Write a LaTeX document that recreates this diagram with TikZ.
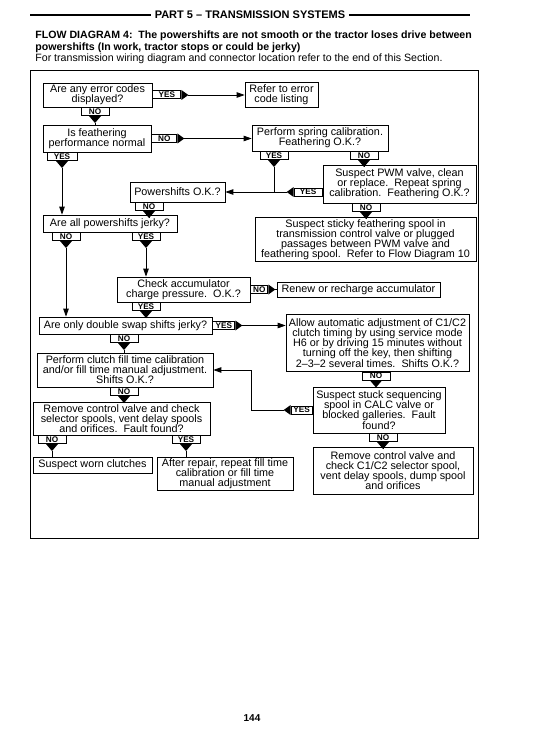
\documentclass[tikz,border=0pt]{standalone}
\usepackage{fontspec}
\setmainfont{Liberation Sans}
\usepackage{tikz}
\usetikzlibrary{arrows.meta,positioning,calc}
\tikzstyle{flowbox}=[draw, line width=0.7pt, align=center, inner sep=0pt, font=\fontsize{10.8}{10.1}\selectfont]
\tikzstyle{tagbox}=[draw, line width=1pt, fill=white, inner sep=0pt, minimum height=8pt, font=\fontsize{8.2}{8}\selectfont\bfseries]
\tikzstyle{tagdn}=[tagbox, anchor=north, minimum width=28pt]
\tikzstyle{tagr}=[tagbox, anchor=west, minimum width=28pt]
\tikzstyle{tagl}=[tagbox, anchor=east, minimum width=28pt]

\begin{document}
\begin{tikzpicture}[x=1pt, y=-1pt, line width=0.8pt, >={Triangle[length=8pt,width=5.5pt]}]
\useasboundingbox (0,0) rectangle (541,746);

% header
\node[font=\fontsize{11}{12}\selectfont\bfseries] (hdr) at (250,15) {PART 5 -- TRANSMISSION SYSTEMS};
\draw[line width=1.6pt] (30,15) -- (hdr.west);
\draw[line width=1.6pt] (hdr.east) -- (470,15);
\node[anchor=base west, inner sep=0pt, font=\fontsize{10.6}{12}\selectfont\bfseries] (title1) at (35,39) {FLOW DIAGRAM 4:\ \ The powershifts are not smooth or the tractor loses drive between};
\node[anchor=base west, inner sep=0pt, font=\fontsize{10.6}{12}\selectfont\bfseries] (title2) at (35,51) {powershifts (In work, tractor stops or could be jerky)};
\node[anchor=base west, inner sep=0pt, font=\fontsize{10.6}{12}\selectfont] (title3) at (35,62) {For transmission wiring diagram and connector location refer to the end of this Section.};

% frame
\draw[line width=0.9pt] (30,70) rectangle (478,538);

% boxes
\node[flowbox, minimum width=109, minimum height=24] (errcodes) at (97.5,95) {Are any error codes\\displayed?};
\node[flowbox, minimum width=73, minimum height=25] (refer) at (281.5,94.5) {Refer to error\\code listing};
\node[flowbox, minimum width=108, minimum height=27] (feath) at (97,138.5) {Is feathering\\performance normal};
\node[flowbox, minimum width=136, minimum height=26] (spring) at (320,138) {Perform spring calibration.\\Feathering O.K.?};
\node[flowbox, minimum width=95, minimum height=20] (psok) at (177.5,192) {Powershifts O.K.?};
\node[flowbox, minimum width=153, minimum height=38] (pwm) at (399.5,184) {Suspect PWM valve, clean\\or replace.\ \ Repeat spring\\calibration.\ \ Feathering O.K.?};
\node[flowbox, minimum width=221, minimum height=44] (sticky) at (365.5,239.5) {Suspect sticky feathering spool in\\transmission control valve or plugged\\passages between PWM valve and\\feathering spool.\ \ Refer to Flow Diagram 10};
\node[flowbox, minimum width=134, minimum height=17] (jerky) at (110,223.5) {Are all powershifts jerky?};
\node[flowbox, minimum width=133, minimum height=25] (accum) at (183.5,289.5) {Check accumulator\\charge pressure.\ \ O.K.?};
\node[flowbox, minimum width=163, minimum height=15] (renew) at (358.5,289.5) {Renew or recharge accumulator};
\node[flowbox, minimum width=173, minimum height=17] (double) at (125.5,325.5) {Are only double swap shifts jerky?};
\node[flowbox, minimum width=183, minimum height=57] (allow) at (377.5,343) {Allow automatic adjustment of C1/C2\\clutch timing by using service mode\\H6 or by driving 15 minutes without\\turning off the key, then shifting\\2--3--2 several times.\ \ Shifts O.K.?};
\node[flowbox, minimum width=176, minimum height=34] (clutch) at (125,370) {Perform clutch fill time calibration\\and/or fill time manual adjustment.\\Shifts O.K.?};
\node[flowbox, minimum width=132, minimum height=46] (stuck) at (379,410) {Suspect stuck sequencing\\spool in CALC valve or\\blocked galleries.\ \ Fault\\found?};
\node[flowbox, minimum width=177, minimum height=33] (remove1) at (121.5,418.5) {Remove control valve and check\\selector spools, vent delay spools\\and orifices.\ \ Fault found?};
\node[flowbox, minimum width=119, minimum height=16] (worn) at (92.5,465) {Suspect worn clutches};
\node[flowbox, minimum width=136, minimum height=33] (repair) at (225,473.5) {After repair, repeat fill time\\calibration or fill time\\manual adjustment};
\node[flowbox, minimum width=160, minimum height=47] (remove2) at (393,470.5) {Remove control valve and\\check C1/C2 selector spool,\\vent delay spools, dump spool\\and orifices};

% tags
\node[tagdn] (noA) at (95,107) {NO};
\node[tagdn, minimum width=30] (yesF) at (62,152) {YES};
\node[tagdn] (yesS) at (274,151) {YES};
\node[tagdn] (noS) at (364,151) {NO};
\node[tagdn] (noP) at (149,202) {NO};
\node[tagdn] (noPWM) at (366,203) {NO};
\node[tagdn] (noJ) at (66,232) {NO};
\node[tagdn] (yesJ) at (146,232) {YES};
\node[tagdn] (yesAcc) at (146,302) {YES};
\node[tagdn] (noD) at (124,334) {NO};
\node[tagdn] (noC) at (124,387) {NO};
\node[tagdn] (noR) at (52,435) {NO};
\node[tagdn] (yesR) at (186,435) {YES};
\node[tagdn] (noAl) at (376,371.5) {NO};
\node[tagdn] (noSt) at (383,433) {NO};
\node[tagr, right=0pt of errcodes] (yesA) {YES};
\node[tagr, right=0pt of feath, minimum width=25] (noF) {NO};
\node[tagr, right=0pt of accum, minimum width=17] (noAcc) {NO};
\node[tagr, right=0pt of double, minimum width=22] (yesD) {YES};
\node[tagl] (yesPWM) at (pwm.west |- psok) {YES};
\node[tagl, minimum width=21] (yesSt) at (stuck.west) {YES};

% tag heads
\foreach \t in {noA,yesF,yesS,noS,noP,noPWM,noJ,yesJ,yesAcc,noD,noC,noR,yesR,noAl,noSt} {
    \fill ($(\t.south)+(-6,0)$) -- ($(\t.south)+(6,0)$) -- ($(\t.south)+(0,7)$) -- cycle;
    \coordinate (\t-tip) at ($(\t.south)+(0,7)$);
}
\foreach \t in {yesA,noF,noAcc,yesD} {
    \fill ($(\t.east)+(0,-5)$) -- ($(\t.east)+(0,5)$) -- ($(\t.east)+(7,0)$) -- cycle;
    \coordinate (\t-tip) at ($(\t.east)+(7,0)$);
}
\foreach \t in {yesPWM,yesSt} {
    \fill ($(\t.west)+(0,-5)$) -- ($(\t.west)+(0,5)$) -- ($(\t.west)+(-7,0)$) -- cycle;
    \coordinate (\t-tip) at ($(\t.west)+(-7,0)$);
}

% connectors
\foreach \t/\b in {noA/feath,noS/pwm,noP/jerky,noPWM/sticky,yesAcc/double,noD/clutch,noC/remove1,noR/worn,yesR/repair,noAl/stuck,noSt/remove2}
    \draw (\t-tip) -- (\t-tip |- \b.north);
\draw (noAcc-tip) -- (noAcc-tip -| renew.west);
\draw[->] (yesA-tip) -- (yesA-tip -| refer.west);
\draw[->] (noF-tip) -- (noF-tip -| spring.west);
\draw[->] (yesD-tip) -- (yesD-tip -| allow.west);
\draw[->] (yesF-tip) -- (yesF-tip |- jerky.north);
\draw[->] (noJ-tip) -- (noJ-tip |- double.north);
\draw[->] (yesJ-tip) -- (yesJ-tip |- accum.north);
\draw[->] (yesS-tip) |- (psok.east);
\draw (yesPWM-tip) -- (yesPWM-tip -| yesS-tip);
\draw[->] (yesSt-tip) -- ++(-32,0) |- (clutch.east);

% page number
\node[font=\fontsize{10}{12}\selectfont\bfseries] (pageno) at (252,718) {144};

\end{tikzpicture}
\end{document}
